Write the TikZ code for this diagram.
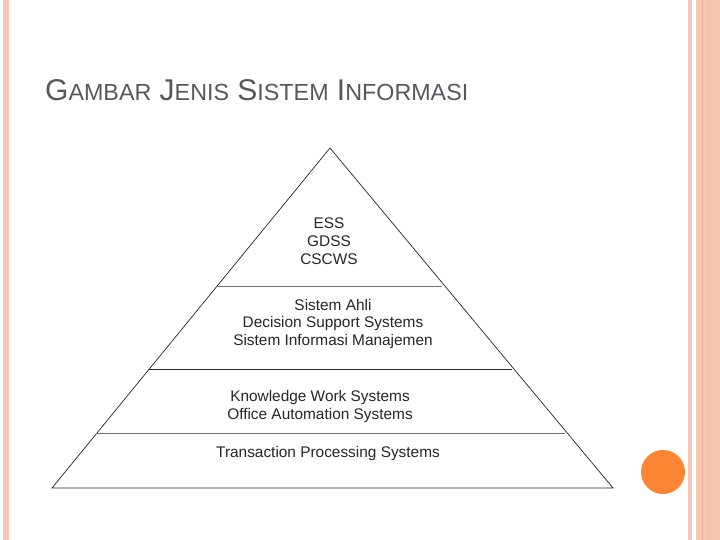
\documentclass[tikz,border=0pt]{standalone}
\usepackage{fontspec}
\setmainfont{Liberation Sans}
\definecolor{stripe}{HTML}{F8C6B2}
\definecolor{stripedark}{HTML}{F0A888}
\definecolor{dot}{HTML}{FC8533}
\definecolor{titlegray}{HTML}{55595E}
\newcommand{\bigc}[1]{{\fontsize{30}{30}\selectfont #1}}
\newcommand{\smc}[1]{{\fontsize{23.3}{23.3}\selectfont #1}}
\begin{document}
\begin{tikzpicture}[x=1pt,y=-1pt,
  lay/.style={font=\fontsize{15.4}{17.7}\selectfont, text=black!85, align=center, inner sep=0pt},
  sep/.style={draw=black!55, line width=0.6pt}]
\useasboundingbox (0,0) rectangle (720,540);
\fill[white] (0,0) rectangle (720,540);
% left stripe
\fill[stripe] (2.7,0) rectangle (9,540);
% right stripes
\fill[stripe] (688,0) rectangle (692,540);
\fill[stripe] (696,0) rectangle (720,540);
\fill[stripedark!70!stripe] (701.5,0) rectangle (703,540);
\fill[stripe!80!stripedark] (707,0) rectangle (712,540);
% orange dot
\fill[dot] (663,472) circle (22);
% title
\node[anchor=base west, text=titlegray, inner sep=0pt] (title) at (45,101)
  {\bigc{G}\smc{AMBAR}\bigc{ J}\smc{ENIS}\bigc{ S}\smc{ISTEM}\bigc{ I}\smc{NFORMASI}};
% pyramid
\coordinate (apex) at (330,148);
\coordinate (bl) at (52,488);
\coordinate (br) at (613,488);
\draw[black!85, line width=0.7pt] (apex) -- (bl) -- (br) -- cycle;
\coordinate (l1a) at (217,286); \coordinate (l1b) at (442,286);
\coordinate (l2a) at (149,369); \coordinate (l2b) at (512,369);
\coordinate (l3a) at (96,433);  \coordinate (l3b) at (565,433);
\draw[sep] (l1a) -- (l1b);
\draw[black!85, line width=1pt] (l2a) -- (l2b);
\draw[sep] (l3a) -- (l3b);
\node[lay] (top) at (329,241) {ESS\\GDSS\\CSCWS};
\node[lay] (mid) at (333,324) {Sistem Ahli\\Decision Support Systems\\Sistem Informasi Manajemen};
\node[lay] (kw) at (320,406.5) {Knowledge Work Systems\\Office Automation Systems};
\node[lay] (tps) at (328,453.5) {Transaction Processing Systems};
\end{tikzpicture}
\end{document}
